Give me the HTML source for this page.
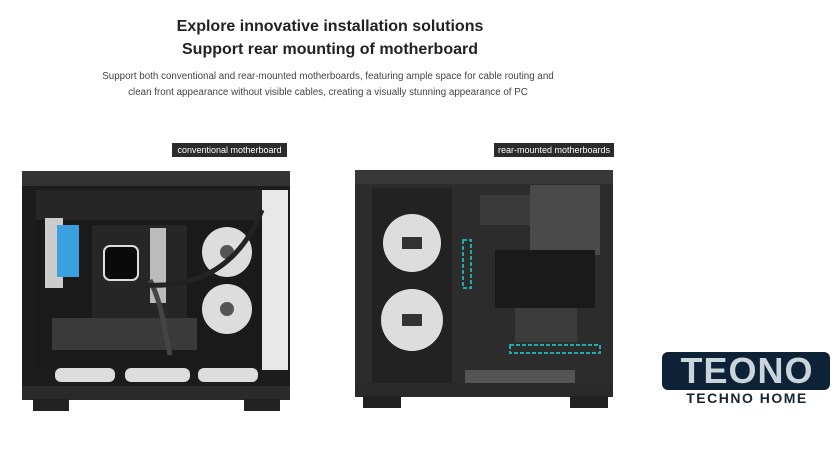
<!DOCTYPE html>
<html><head><meta charset="utf-8"><style>
body{margin:0;width:840px;height:453px;background:#fff;overflow:hidden;font-family:"Liberation Sans",sans-serif;position:relative}
.t{position:absolute;left:0;width:660px;text-align:center;font-weight:bold;font-size:16px;color:#222}
.p{position:absolute;left:0;width:660px;text-align:center;font-size:9.8px;color:#444}
.lab{position:absolute;background:#2b2b2b;color:#fff;font-size:9px;line-height:14px;height:14px;text-align:center}
</style></head><body>
<div class="t" style="top:18px">Explore innovative installation solutions</div>
<div class="t" style="top:41px">Support rear mounting of motherboard</div>
<div class="p" style="top:71px;left:-2px">Support both conventional and rear-mounted motherboards, featuring ample space for cable routing and</div>
<div class="p" style="top:87px;left:-2px">clean front appearance without visible cables, creating a visually stunning appearance of PC</div>
<div class="lab" style="left:172px;top:143px;width:115px">conventional motherboard</div>
<div class="lab" style="left:494px;top:143px;width:120px">rear-mounted motherboards</div>
<svg width="840" height="453" style="position:absolute;left:0;top:0">
<rect x="22" y="171" width="268" height="228" fill="#1c1c1c"/>
<rect x="22" y="171" width="268" height="15" fill="#333"/>
<rect x="262" y="190" width="26" height="180" fill="#e8e8e8"/>
<rect x="36" y="190" width="226" height="178" fill="#1a1a1a"/>
<rect x="36" y="190" width="226" height="30" fill="#262626"/>
<rect x="92" y="225" width="95" height="95" fill="#262626"/>
<rect x="104" y="246" width="34" height="34" rx="6" fill="#0a0a0a" stroke="#ddd" stroke-width="2"/>
<rect x="150" y="228" width="16" height="75" fill="#bbb"/>
<rect x="45" y="218" width="18" height="70" fill="#ccc"/>
<rect x="57" y="225" width="22" height="52" fill="#3aa0e0"/>
<circle cx="227" cy="252" r="25" fill="#ddd"/><circle cx="227" cy="252" r="7" fill="#555"/>
<circle cx="227" cy="309" r="25" fill="#ddd"/><circle cx="227" cy="309" r="7" fill="#555"/>
<rect x="52" y="318" width="145" height="32" fill="#3a3a3a"/>
<path d="M150 280 Q160 300 165 330 L170 355" stroke="#444" stroke-width="5" fill="none"/>
<path d="M145 285 Q230 290 262 210" stroke="#222" stroke-width="5" fill="none"/>
<rect x="55" y="368" width="60" height="14" rx="6" fill="#ddd"/>
<rect x="125" y="368" width="65" height="14" rx="6" fill="#ddd"/>
<rect x="198" y="368" width="60" height="14" rx="6" fill="#ddd"/>
<rect x="22" y="386" width="268" height="14" fill="#2a2a2a"/>
<rect x="33" y="399" width="36" height="12" fill="#222"/>
<rect x="244" y="399" width="36" height="12" fill="#222"/>
<rect x="355" y="170" width="258" height="225" fill="#2c2c2c"/>
<rect x="355" y="170" width="258" height="14" fill="#383838"/>
<rect x="372" y="188" width="80" height="200" fill="#222"/>
<circle cx="412" cy="243" r="29" fill="#ddd"/><rect x="402" y="237" width="20" height="12" fill="#333"/>
<circle cx="412" cy="320" r="31" fill="#ddd"/><rect x="402" y="314" width="20" height="12" fill="#333"/>
<rect x="530" y="185" width="70" height="70" fill="#4a4a4a"/>
<rect x="495" y="250" width="100" height="58" fill="#1a1a1a"/>
<rect x="480" y="195" width="50" height="30" fill="#3a3a3a"/>
<rect x="515" y="308" width="62" height="34" fill="#3c3c3c"/>
<rect x="463" y="240" width="8" height="48" fill="none" stroke="#2aa" stroke-width="2" stroke-dasharray="4 2"/>
<rect x="510" y="345" width="90" height="8" fill="none" stroke="#2aa" stroke-width="2" stroke-dasharray="4 2"/>
<rect x="465" y="370" width="110" height="15" fill="#555"/>
<rect x="355" y="383" width="258" height="14" fill="#2a2a2a"/>
<rect x="363" y="396" width="38" height="12" fill="#222"/>
<rect x="570" y="396" width="38" height="12" fill="#222"/>
</svg>
<div style="position:absolute;left:662px;top:352px;width:168px;height:38px;background:#0d2236;border-radius:6px"></div>
<div style="position:absolute;left:664px;top:350px;width:166px;text-align:center;font:900 36px/42px 'Liberation Sans',sans-serif;color:#c9d4dc;letter-spacing:1px">TEONO</div>
<div style="position:absolute;left:664px;top:390px;width:166px;text-align:center;font:bold 14px/16px 'Liberation Sans',sans-serif;color:#1a2533;letter-spacing:1.5px">TECHNO HOME</div>
</body></html>
